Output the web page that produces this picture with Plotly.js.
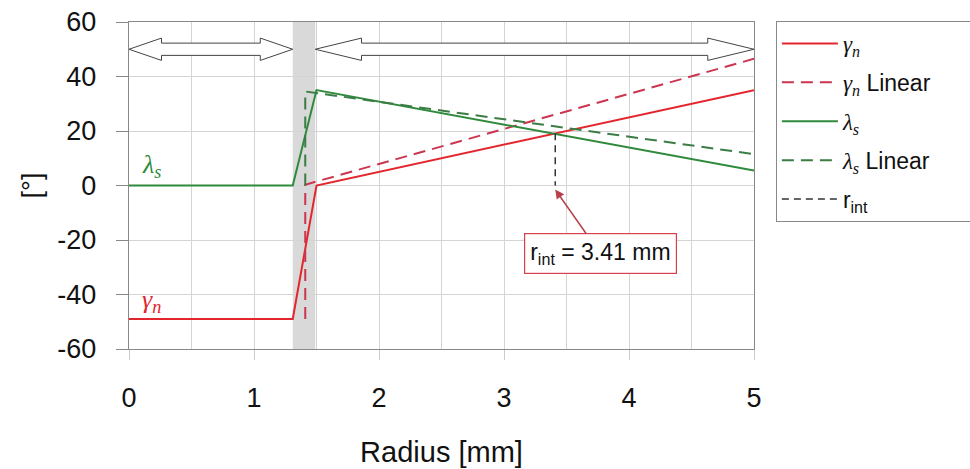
<!DOCTYPE html>
<html>
<head>
<meta charset="utf-8">
<script src="https://cdn.plot.ly/plotly-3.0.1.min.js"></script>
<style>html,body{margin:0;padding:0;background:#fff;}#chart{width:970px;height:469px;}</style>
</head>
<body>
<div id="chart"></div>
<script>
// ---- data ----
const gammaR = [0, 1.31, 1.5, 5];
const gammaN = [-49, -49, 0, 35];
const gammaLinR = [1.41, 1.41, 5];
const gammaLin = [-49, 0.3, 46.5];
const lambdaR = [0, 1.31, 1.5, 5];
const lambdaS = [0, 0, 35, 5.5];
const lambdaLinR = [1.41, 1.41, 5];
const lambdaLin = [0, 34.5, 11.5];
const rIntR = [3.41, 3.41];
const rIntY = [19.2, 0];
const rIntValue = 3.41;
const transitionZone = [1.31, 1.49];
const zoneStarts = [0, 1.49];
const zoneEnds = [1.31, 5];
const xTicks = [0, 1, 2, 3, 4, 5];
const yTicks = [-60, -40, -20, 0, 20, 40, 60];
const yTickLabels = ['-60', '-40', '-20', '0', '20', '40', '60'];

// ---- styles ----
const RED = '#e3262e', RED_D = '#cc3550', GREEN = '#2f8a3c', GREEN_D = '#3b7d45';
const greek = (g, s) => '<span style="font-family:Liberation Serif"><i>' + g + '<sub>' + s + '</sub></i></span>';
const PAD = '&nbsp;&nbsp;&nbsp;&nbsp;&nbsp;&nbsp;';

const traces = [
  {x: gammaR, y: gammaN, name: greek('γ','n'), mode: 'lines', line: {color: RED, width: 2}, legendgroup: 'a'},
  {x: gammaLinR, y: gammaLin, name: greek('γ','n') + ' Linear' + PAD, mode: 'lines', line: {color: RED_D, width: 2, dash: '12px,7px'}, legendgroup: 'b'},
  {x: lambdaR, y: lambdaS, name: greek('λ','s'), mode: 'lines', line: {color: GREEN, width: 2}, legendgroup: 'c'},
  {x: lambdaLinR, y: lambdaLin, name: greek('λ','s') + ' Linear', mode: 'lines', line: {color: GREEN_D, width: 2, dash: '12px,7px'}, legendgroup: 'd'},
  {x: rIntR, y: rIntY, name: 'r<sub>int</sub>', mode: 'lines', line: {color: '#333', width: 1.5, dash: '7px,5px'}, legendgroup: 'e'}
];

function arrowPath(x0, x1, yc, sh, hh, hl) {
  return 'M' + x0 + ',' + yc +
    ' L' + (x0 + hl) + ',' + (yc + hh) + ' L' + (x0 + hl) + ',' + (yc + sh) +
    ' L' + (x1 - hl) + ',' + (yc + sh) + ' L' + (x1 - hl) + ',' + (yc + hh) +
    ' L' + x1 + ',' + yc +
    ' L' + (x1 - hl) + ',' + (yc - hh) + ' L' + (x1 - hl) + ',' + (yc - sh) +
    ' L' + (x0 + hl) + ',' + (yc - sh) + ' L' + (x0 + hl) + ',' + (yc - hh) + ' Z';
}
const headLens = [0.26, 0.37];
const shapes = [
  {type: 'rect', xref: 'x', yref: 'paper', x0: transitionZone[0], x1: transitionZone[1], y0: 0, y1: 1,
   fillcolor: '#d9d9d9', line: {width: 0}, layer: 'below'}
];
zoneStarts.forEach((s, i) => {
  shapes.push({type: 'path', xref: 'x', yref: 'y', path: arrowPath(s, zoneEnds[i], 50, 2.25, 4.1, headLens[i]),
    fillcolor: '#ffffff', line: {color: '#444', width: 1}, layer: 'above'});
});

const layout = {
  width: 970, height: 469,
  margin: {l: 129, r: 216, t: 22, b: 120, autoexpand: false},
  paper_bgcolor: '#fff', plot_bgcolor: '#fff',
  font: {family: 'Liberation Sans, Arial, sans-serif', size: 24, color: '#111'},
  showlegend: true,
  legend: {x: 1.035, xanchor: 'left', y: 1.003, yanchor: 'top', bordercolor: '#888', borderwidth: 1,
    bgcolor: '#fff', font: {size: 23}, traceorder: 'grouped', tracegroupgap: 6, itemwidth: 56},
  xaxis: {range: [0, 5], tickvals: xTicks, ticktext: xTicks.map(String), ticks: 'outside', ticklen: 10, tickcolor: '#ccc',
    showgrid: true, gridcolor: '#d4d4d4', showline: true, mirror: true, linecolor: '#888', linewidth: 1.2, zeroline: false,
    minor: {dtick: 0.5, showgrid: true, gridcolor: '#d4d4d4'},
    tickfont: {size: 27}, ticklabelstandoff: 14,
    title: {text: 'Radius [mm]', font: {size: 29}, standoff: 30}},
  yaxis: {range: [-60, 60], tickvals: yTicks, ticktext: yTickLabels, ticks: 'outside', ticklen: 12, tickcolor: '#888',
    showgrid: true, gridcolor: '#d4d4d4', showline: true, mirror: true, linecolor: '#888', linewidth: 1.2, zeroline: false,
    tickfont: {size: 27}, ticklabelstandoff: 14,
    title: {text: '[°]', font: {size: 27}, standoff: 8}},
  shapes: shapes,
  annotations: [
    {x: 0.18, y: 7, xref: 'x', yref: 'y', text: greek('λ','s'), showarrow: false, font: {size: 26, color: GREEN}},
    {x: 0.18, y: -42.5, xref: 'x', yref: 'y', text: greek('γ','n'), showarrow: false, font: {size: 26, color: RED}},
    {x: rIntValue, y: -1.5, xref: 'x', yref: 'y', axref: 'x', ayref: 'y', ax: 3.77, ay: -25,
     text: 'r<sub>int</sub> = ' + rIntValue + ' mm', showarrow: true, arrowhead: 2, arrowsize: 1.2, arrowwidth: 1.5,
     arrowcolor: '#b8404c', bordercolor: '#d8404e', borderwidth: 1.2, borderpad: 5, bgcolor: '#fff',
     font: {size: 23, color: '#111'}}
  ]
};

Plotly.newPlot('chart', traces, layout, {staticPlot: true});
</script>
</body>
</html>
